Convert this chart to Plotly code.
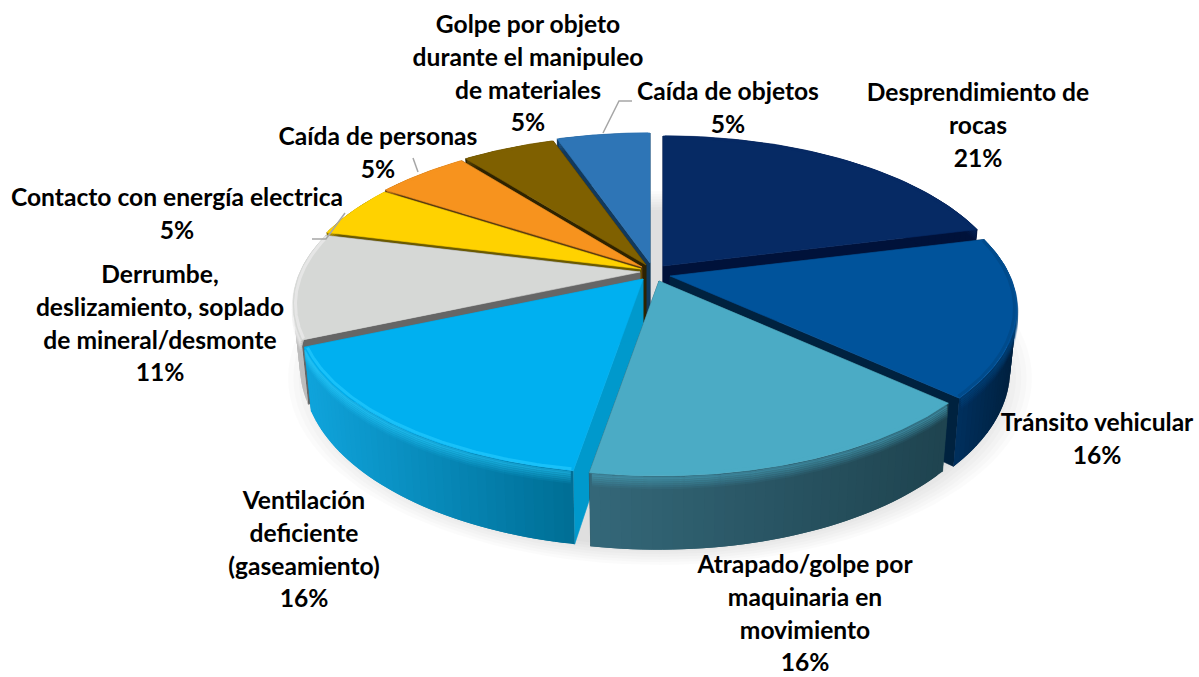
import numpy as np
import plotly.graph_objects as go

# ---------- data ----------
categories = ["Desprendimiento de rocas", "Tránsito vehicular",
              "Atrapado/golpe por maquinaria en movimiento",
              "Ventilación deficiente (gaseamiento)",
              "Derrumbe, deslizamiento, soplado de mineral/desmonte",
              "Contacto con energía electrica", "Caída de personas",
              "Golpe por objeto durante el manipuleo de materiales",
              "Caída de objetos"]
values = [4, 3, 3, 3, 2, 1, 1, 1, 1]

# ---------- styles ----------
top_colors = ["#062a64", "#00539b", "#4babc5", "#00b0f0", "#d6d8d6",
              "#ffd200", "#f7931e", "#7f6000", "#2e75b6"]
cut_colors = ["#00123a", "#00223f", "#1f4450", "#0099cc", "#666666",
              "#6b5a00", "#5a3a10", "#2e2300", "#12395c"]
wall_left = ["#00123a", "#003160", "#35697a", "#10a4dc", "#bdbdbd",
             "#6b5a00", "#5a3a10", "#2e2300", "#12395c"]
wall_right = ["#00123a", "#00213f", "#1f4450", "#006f96", "#bdbdbd",
              "#6b5a00", "#5a3a10", "#2e2300", "#12395c"]
rim_rgb = ["6,42,100", "0,70,130", "75,171,197", "40,205,255", "240,240,240",
           "255,210,0", "247,147,30", "127,96,0", "46,117,182"]

# ---------- layout of the tilted disc ----------
apex = [(663, 266), (670, 276), (659, 281), (643, 279), (640, 272),
        (641, 269), (642, 267), (646, 265), (650, 263)]
draw_order = [8, 7, 6, 5, 0, 4, 1, 3, 2]
RX, RY, K, DEPTH, TAPER = 340, 156, 0.2, 59, 0.98

totals = np.cumsum([0] + values) / sum(values) * 2 * np.pi


def top(i, t, r=1.0):
    u, v = np.sin(t) * r, np.cos(t) * r
    w = 1 / (1 + K * v)
    return apex[i][0] + RX * u * w, apex[i][1] - RY * v * w


def bottom(i, t, r=1.0):
    u, v = np.sin(t) * r, np.cos(t) * r
    w = 1 / (1 + K * v)
    return apex[i][0] + RX * u * w * TAPER, apex[i][1] - RY * v * w + DEPTH * w


def hex2rgb(h):
    return np.array([int(h[j:j + 2], 16) for j in (1, 3, 5)], float)


def mix(a, b, f):
    c = hex2rgb(a) * (1 - f) + hex2rgb(b) * f
    return "rgb(%d,%d,%d)" % tuple(c)


fig = go.Figure()


def poly(xs, ys, color, lw=0.6):
    fig.add_trace(go.Scatter(x=list(xs), y=list(ys), mode="lines", fill="toself",
                             fillcolor=color, line=dict(color=color, width=lw),
                             hoverinfo="skip", showlegend=False))


# soft shadow under the disc
for s in np.linspace(1.0, 0.9, 8):
    a = np.linspace(0, 2 * np.pi, 121)
    fig.add_trace(go.Scatter(x=660 + 372 * s * np.cos(a), y=378 + 187 * s * np.sin(a),
                             mode="lines", fill="toself", fillcolor="rgba(0,0,0,0.016)",
                             line=dict(width=0), hoverinfo="skip", showlegend=False))

for i in draw_order:
    t0, t1 = totals[i], totals[i + 1]
    ax, ay = apex[i]
    # cut faces
    for t in (t0, t1):
        xt, yt = top(i, t)
        xb, yb = bottom(i, t)
        poly([ax, xt, xb, ax, ax], [ay, yt, yb, ay + DEPTH, ay], cut_colors[i])
    # outer wall: overlapping strips so it shades across the width with no seams
    ts = np.linspace(t0, t1, 41)
    xs_all = [top(i, t)[0] for t in ts]
    lo, hi = min(xs_all), max(xs_all)
    for n in range(len(ts) - 1):
        a0, a1 = ts[n], ts[min(n + 2, len(ts) - 1)]
        sub = np.linspace(a0, a1, 4)
        tp = [top(i, t) for t in sub]
        bt = [bottom(i, t) for t in sub[::-1]]
        f = (top(i, ts[n])[0] - lo) / max(hi - lo, 1)
        poly([p[0] for p in tp + bt] + [tp[0][0]], [p[1] for p in tp + bt] + [tp[0][1]],
             mix(wall_left[i], wall_right[i], f), lw=0)
    # soft blend from the bevelled rim down into the wall
    tsb = np.linspace(t0 + 0.006, t1 - 0.006, 81)
    for d in (12, 10, 8, 6, 4, 2):
        fig.add_trace(go.Scatter(
            x=[top(i, t)[0] for t in tsb],
            y=[top(i, t)[1] + d for t in tsb], mode="lines",
            line=dict(color=f"rgba({rim_rgb[i]},{0.55 * (1 - d / 14):.2f})", width=2.5),
            hoverinfo="skip", showlegend=False))
    # top face
    ts = np.linspace(t0, t1, 81)
    pts = [top(i, t) for t in ts]
    poly([ax] + [p[0] for p in pts] + [ax], [ay] + [p[1] for p in pts] + [ay], top_colors[i])
    # bevelled rim
    pts = [top(i, t, 0.993) for t in tsb]
    fig.add_trace(go.Scatter(x=[p[0] for p in pts], y=[p[1] for p in pts], mode="lines",
                             line=dict(color=f"rgba({rim_rgb[i]},0.6)", width=3),
                             hoverinfo="skip", showlegend=False))

# ---------- labels ----------
percent = [f"{round(100 * v / sum(values))}%" for v in values]
label_lines = [
    ["Desprendimiento de", "rocas"],
    ["Tránsito vehicular"],
    ["Atrapado/golpe por", "maquinaria en", "movimiento"],
    ["Ventilación", "deficiente", "(gaseamiento)"],
    ["Derrumbe,", "deslizamiento, soplado", "de mineral/desmonte"],
    ["Contacto con energía electrica"],
    ["Caída de personas"],
    ["Golpe por objeto", "durante el manipuleo", "de materiales"],
    ["Caída de objetos"],
]
label_x = [978, 1097, 805, 304, 160, 177, 378, 528, 728]
label_y = [95, 425, 567, 503, 277, 200, 139, 27, 94]
LINE_STEP = 32.7

tx, ty, tt = [], [], []
for i, lines in enumerate(label_lines):
    for j, s in enumerate(lines + [percent[i]]):
        tx.append(label_x[i])
        ty.append(label_y[i] + j * LINE_STEP)
        tt.append(s)
fig.add_trace(go.Scatter(x=tx, y=ty, text=tt, mode="text", textposition="middle center",
                         cliponaxis=False,
                         textfont=dict(family="Lato", size=24.6, color="#000000", weight=700),
                         hoverinfo="skip", showlegend=False))

# leader lines
leaders = [([312, 326, 345], [239, 239, 213]),
           ([413, 418], [158, 172]),
           ([603, 619, 632], [133, 101, 101])]
for lx, ly in leaders:
    fig.add_trace(go.Scatter(x=lx, y=ly, mode="lines", line=dict(color="#a6a6a6", width=1.5),
                             hoverinfo="skip", showlegend=False))

fig.update_layout(width=1199, height=677, margin=dict(l=0, r=0, t=0, b=0),
                  paper_bgcolor="white", plot_bgcolor="white", showlegend=False,
                  xaxis=dict(range=[0, 1199], visible=False, fixedrange=True),
                  yaxis=dict(range=[677, 0], visible=False, fixedrange=True))
fig.write_html("out.html", config={"displayModeBar": False},
               post_script="document.body.style.margin='0';")
